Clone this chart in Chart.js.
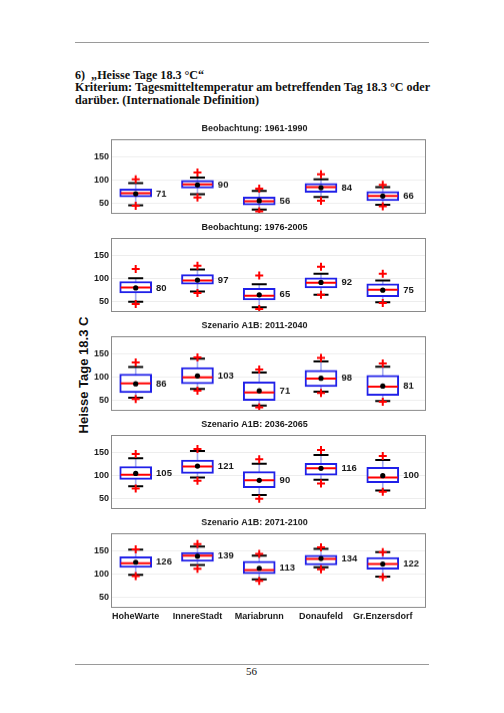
<!DOCTYPE html>
<html>
<head>
<meta charset="utf-8">
<script src="https://cdn.jsdelivr.net/npm/chart.js@4.4.1/dist/chart.umd.min.js"></script>
<style>
  html, body { margin:0; padding:0; background:#fff; }
  body { width:504px; height:713px; position:relative; overflow:hidden; }
  .rule { position:absolute; left:75px; width:354px; height:0; border-top:1px solid #9a9a9a; }
  .serif { position:absolute; font-family:"Liberation Serif","DejaVu Serif",serif; color:#111; white-space:nowrap; }
  .panel { position:absolute; left:75px; width:360px; }
  #ytitle { position:absolute; left:82.5px; top:375px; transform:translate(-50%,-50%) rotate(-90deg);
            font-family:"Liberation Sans",Arial,sans-serif; font-weight:bold; font-size:13px; color:#111; white-space:nowrap; }
</style>
</head>
<body>
<div class="rule" style="top:42px"></div>
<div class="serif" style="left:75px; top:67.5px; font-size:12.1px; font-weight:bold;">6)&nbsp; „Heisse Tage 18.3 °C“</div>
<div class="serif" style="left:75px; top:80px; font-size:12.1px; font-weight:bold;">Kriterium: Tagesmitteltemperatur am betreffenden Tag 18.3 °C oder</div>
<div class="serif" style="left:75px; top:93px; font-size:12.1px; font-weight:bold;">darüber. (Internationale Definition)</div>
<div id="ytitle">Heisse Tage 18.3 C</div>
<div id="panels"></div>
<div class="rule" style="top:664px"></div>
<div class="serif" style="left:246px; top:665px; font-size:11px;">56</div>

<script>
// ---------- data ----------
const categories = ['HoheWarte', 'InnereStadt', 'Mariabrunn', 'Donaufeld', 'Gr.Enzersdorf'];
const panelTitles = ['Beobachtung: 1961-1990', 'Beobachtung: 1976-2005',
  'Szenario A1B: 2011-2040', 'Szenario A1B: 2036-2065', 'Szenario A1B: 2071-2100'];
const yTicks = [50, 100, 150];

const upperOut = [
  [102, 117, 82, 113, 90],
  [121, 128, 107, 126, 111],
  [132, 143, 117, 142, 130],
  [147, 158, 136, 156, 143],
  [154, 165, 144, 158, 148]];
const upperWhisker = [
  [94, 106, 77, 102, 85],
  [101, 120, 88, 111, 96],
  [122, 140, 110, 134, 123],
  [138, 154, 126, 145, 134],
  [153, 160, 140, 155, 148]];
const q3 = [
  [81, 100, 64, 93, 76],
  [94, 109, 79, 102, 89],
  [107, 121, 90, 115, 104],
  [120, 134, 109, 127, 118],
  [138, 147, 128, 141, 136]];
const median = [
  [72, 91, 55, 85, 66],
  [81, 96, 63, 91, 76],
  [87, 100, 67, 97, 80],
  [102, 120, 90, 116, 96],
  [124, 140, 109, 133, 122]];
const q1 = [
  [64, 83, 47, 74, 56],
  [69, 88, 54, 80, 61],
  [67, 86, 50, 80, 61],
  [92, 105, 74, 101, 85],
  [115, 128, 101, 120, 111]];
const lowerWhisker = [
  [46, 70, 37, 64, 47],
  [50, 72, 38, 65, 49],
  [56, 75, 39, 69, 49],
  [77, 96, 58, 91, 68],
  [99, 120, 89, 115, 95]];
const lowerOut = [
  [45, 63, 33, 56, 44],
  [45, 69, 34, 65, 47],
  [53, 71, 35, 66, 47],
  [72, 89, 50, 83, 65],
  [96, 112, 86, 111, 94]];
const mean = [
  [71, 90, 56, 84, 66],
  [80, 97, 65, 92, 75],
  [86, 103, 71, 98, 81],
  [105, 121, 90, 116, 100],
  [126, 139, 113, 134, 122]];

// ---------- drawing ----------
const SANS = '"Liberation Sans", Arial, sans-serif';
const frameAndLabels = {
  id: 'frameAndLabels',
  afterDatasetsDraw(chart, args, opts) {
    const { ctx, chartArea: a, scales: { x, y } } = chart;
    ctx.save();
    ctx.strokeStyle = '#8a8a8a';
    ctx.lineWidth = 1;
    ctx.strokeRect(Math.round(a.left) + 0.5, Math.round(a.top) + 0.5, Math.round(a.width) - 1, Math.round(a.height) - 1);
    ctx.font = 'bold 9.5px ' + SANS;
    ctx.fillStyle = '#1a1a1a';
    ctx.textBaseline = 'middle';
    ctx.textAlign = 'left';
    opts.labels.forEach((v, i) => {
      ctx.fillText(String(v), x.getPixelForValue(i + 1 + 0.33), y.getPixelForValue(v));
    });
    ctx.restore();
  }
};

const xs = categories.map((c, i) => i + 1);
const container = document.getElementById('panels');
const PLOT_LEFT = 111, PLOT_W = 315, PLOT_H = 74;

panelTitles.forEach((title, p) => {
  const plotTop = 139 + 98.5 * p;
  const last = p === panelTitles.length - 1;
  const xh = last ? 16 : 0;
  const div = document.createElement('div');
  div.className = 'panel';
  div.style.top = (plotTop - 20) + 'px';
  div.style.height = (20 + PLOT_H + xh) + 'px';
  const cv = document.createElement('canvas');
  div.appendChild(cv);
  container.appendChild(div);

  const pts = arr => xs.map((x, i) => ({ x, y: arr[p][i] }));
  const rng = (a, b) => xs.map((x, i) => ({ x, y: [a[p][i], b[p][i]] }));

  const chart = new Chart(cv, {
    type: 'bar',
    data: {
      datasets: [
        { type: 'scatter', data: pts(upperOut).concat(pts(lowerOut)), pointStyle: 'cross',
          radius: 4, borderColor: '#ff0000', borderWidth: 2, backgroundColor: '#ff0000', order: 0 },
        { type: 'scatter', data: pts(mean), pointStyle: 'circle', radius: 2.6,
          backgroundColor: '#000', borderColor: '#000', borderWidth: 0, order: 1 },
        { type: 'scatter', data: pts(median), pointStyle: 'line', radius: 15,
          borderColor: '#ff0000', borderWidth: 2, order: 2 },
        { type: 'scatter', data: pts(upperWhisker).concat(pts(lowerWhisker)), pointStyle: 'line', radius: 7.5,
          borderColor: '#000', borderWidth: 2, order: 3 },
        { type: 'bar', data: rng(q1, q3), grouped: false, barThickness: 32,
          backgroundColor: '#ffffff', borderColor: '#2020e8', borderWidth: 2, borderSkipped: false, order: 4 },
        { type: 'bar', data: rng(lowerWhisker, upperWhisker), grouped: false, barThickness: 1,
          backgroundColor: '#a8aef0', borderWidth: 0, order: 5 }
      ]
    },
    options: {
      animation: false,
      responsive: true,
      maintainAspectRatio: false,
      devicePixelRatio: 1,
      layout: { padding: { left: 0, right: 9, top: 0, bottom: 0 } },
      events: [],
      scales: {
        x: {
          type: 'linear', min: 0.6, max: 5.7, offset: false,
          afterBuildTicks: s => { s.ticks = xs.map(v => ({ value: v })); },
          afterFit: s => { s.height = xh; },
          grid: { display: false, drawTicks: false },
          border: { display: false },
          ticks: {
            display: last, padding: 3, maxRotation: 0, minRotation: 0, autoSkip: false,
            font: { family: SANS, size: 9, weight: 'bold' }, color: '#1a1a1a',
            callback: v => categories[Math.round(v) - 1]
          }
        },
        y: {
          type: 'linear', min: 28, max: 189,
          afterBuildTicks: s => { s.ticks = yTicks.map(v => ({ value: v })); },
          afterFit: s => { s.width = 36; },
          grid: { color: 'rgba(0,0,0,0.07)', drawTicks: false },
          border: { display: false },
          ticks: { padding: 2, font: { family: SANS, size: 9, weight: 'bold' }, color: '#1a1a1a' }
        }
      },
      plugins: {
        legend: { display: false },
        tooltip: { enabled: false },
        title: {
          display: true, text: title, color: '#1a1a1a',
          font: { family: SANS, size: 9, weight: 'bold', lineHeight: 1.2 },
          padding: { top: 4, bottom: 5 }
        },
        frameAndLabels: { labels: mean[p] }
      }
    },
    plugins: [frameAndLabels]
  });

  // align the plot area with the reference frame
  const a = chart.chartArea;
  const cw = chart.width, ch = chart.height;
  const newH = ch + (PLOT_H - (a.bottom - a.top));
  const newW = cw + (PLOT_W - (a.right - a.left));
  div.style.top = (plotTop - a.top) + 'px';
  div.style.left = (PLOT_LEFT - a.left) + 'px';
  div.style.height = newH + 'px';
  div.style.width = newW + 'px';
  chart.resize(newW, newH);
});
</script>
</body>
</html>
